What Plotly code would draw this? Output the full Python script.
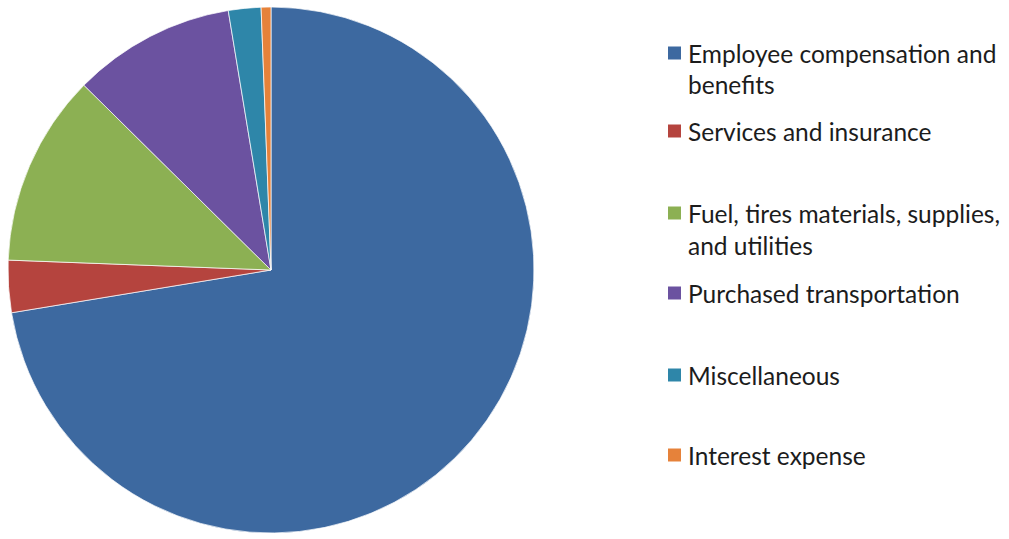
import plotly.graph_objects as go

# Operating expense breakdown (share of total, %)
categories = [
    "Employee compensation and<br>benefits",
    "Services and insurance",
    "Fuel, tires materials, supplies,<br>and utilities",
    "Purchased transportation",
    "Miscellaneous",
    "Interest expense",
]
shares = [72.4, 3.2, 11.8, 10.0, 2.0, 0.6]
colors = ["#3D69A0", "#B5443E", "#8CB053", "#6B52A0", "#2E86A9", "#E6823A"]

W, H = 1009, 539
cx, cy, r = 271, 270, 263

fig = go.Figure(
    go.Pie(
        labels=[c.replace("<br>", " ") for c in categories],
        values=shares,
        sort=False,
        direction="clockwise",
        rotation=0,
        textinfo="none",
        marker=dict(colors=colors, line=dict(color="rgba(255,255,255,0.7)", width=1)),
        domain=dict(x=[(cx - r) / W, (cx + r) / W], y=[(H - cy - r) / H, (H - cy + r) / H]),
        showlegend=False,
    )
)

# Hand-placed legend: a colour square and wrapped label for each category
legend_y = [53, 131, 213, 293, 375, 455]
line_gap = 32
sq = 13
sq_x = 668
text_x = 686
shapes, annotations = [], []
for cat, col, y0 in zip(categories, colors, legend_y):
    shapes.append(dict(
        type="rect", xref="paper", yref="paper",
        x0=sq_x / W, x1=(sq_x + sq) / W,
        y0=(H - y0 - sq / 2) / H, y1=(H - y0 + sq / 2) / H,
        fillcolor=col, line=dict(color=col, width=0),
    ))
    for i, line in enumerate(cat.split("<br>")):
        annotations.append(dict(
            text=line, xref="paper", yref="paper",
            x=text_x / W, y=(H - (y0 + i * line_gap)) / H,
            xanchor="left", yanchor="middle", showarrow=False,
            font=dict(family="Lato", size=24.5, color="#1c1c1c"),
        ))

fig.update_layout(
    width=W, height=H,
    margin=dict(l=0, r=0, t=0, b=0),
    paper_bgcolor="white", plot_bgcolor="white",
    shapes=shapes, annotations=annotations,
)

fig.write_html("out.html")
